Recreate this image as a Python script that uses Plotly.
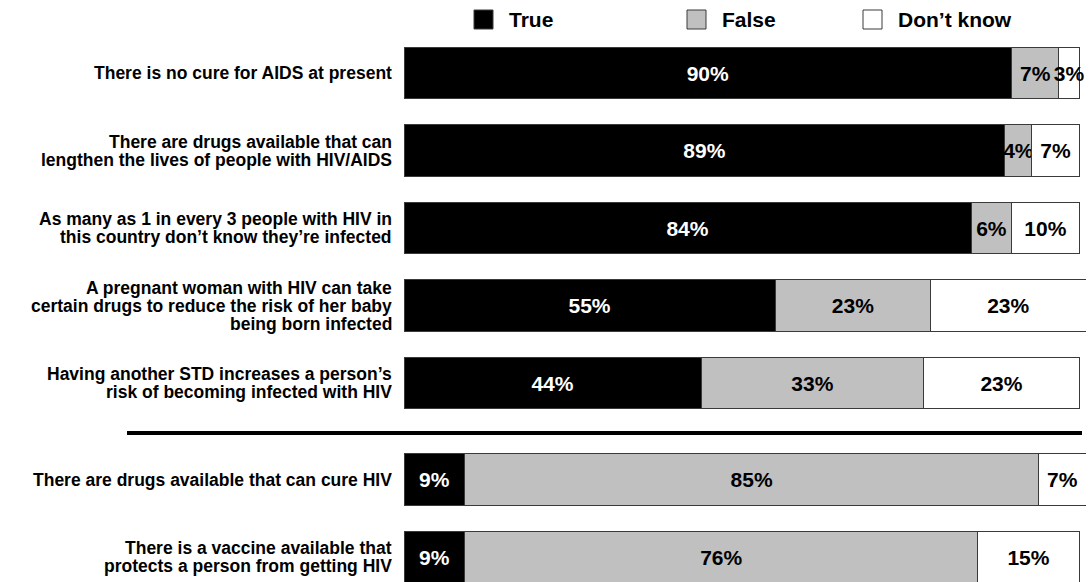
import plotly.graph_objects as go

categories = [
    "There is no cure for AIDS at present",
    "There are drugs available that can<br>lengthen the lives of people with HIV/AIDS",
    "As many as 1 in every 3 people with HIV in<br>this country don’t know they’re infected",
    "A pregnant woman with HIV can take<br>certain drugs to reduce the risk of her baby<br>being born infected",
    "Having another STD increases a person’s<br>risk of becoming infected with HIV",
    "There are drugs available that can cure HIV",
    "There is a vaccine available that<br>protects a person from getting HIV",
]
true_vals = [90, 89, 84, 55, 44, 9, 9]
false_vals = [7, 4, 6, 23, 33, 85, 76]
dontknow_vals = [3, 7, 10, 23, 23, 7, 15]
series_names = ["True", "False", "Don’t know"]
group_sizes = [5, 2]

W, H = 1091, 582
ML, MR, MT, MB = 404, 5, 0, 0
PW = W - ML - MR
FONT = "Liberation Sans, Arial, sans-serif"

# y positions: groups separated by an extra gap
positions = []
offset = 0.0
idx = 0
for g, size in enumerate(group_sizes):
    for k in range(size):
        positions.append(idx + offset)
        idx += 1
    offset += 0.25

fills = ["#000000", "#C0C0C0", "#FFFFFF"]
txtcols = ["#FFFFFF", "#000000", "#000000"]
vals = [true_vals, false_vals, dontknow_vals]

fig = go.Figure()
for name, v, fc, tc in zip(series_names, vals, fills, txtcols):
    fig.add_trace(go.Bar(
        name=name, orientation="h", y=positions, x=v,
        text=[f"{a}%" for a in v], textposition="inside", textangle=0,
        insidetextanchor="middle", constraintext="none",
        textfont=dict(family=FONT, size=21, color=tc, weight="bold"),
        marker=dict(color=fc, line=dict(color="#3a3a3a", width=1)),
        width=0.67, cliponaxis=False, showlegend=False,
    ))

px_per_unit = 77.5
y0_px = 73
y_top = -y0_px / px_per_unit
y_bot = (H - y0_px) / px_per_unit

def xp(px):
    return (px - ML) / PW

def yp(py):
    return (H - py) / (H - MT - MB)

shapes = []
annotations = []
# separator line between groups
shapes.append(dict(type="line", xref="paper", yref="paper",
                   x0=xp(127), x1=xp(1082), y0=yp(433), y1=yp(433),
                   line=dict(color="black", width=4)))

# legend
leg_x = [474, 687, 863]
for name, fc, lx in zip(series_names, fills, leg_x):
    shapes.append(dict(type="rect", xref="paper", yref="paper",
                       x0=xp(lx), x1=xp(lx + 19), y0=yp(10), y1=yp(29),
                       fillcolor=fc, line=dict(color="#3a3a3a", width=1)))
    annotations.append(dict(xref="paper", yref="paper", x=xp(lx + 33), y=yp(20),
                            xanchor="left", yanchor="middle", showarrow=False,
                            text=name, font=dict(family=FONT, size=21, color="black", weight="bold")))

# category labels (one annotation per line for tight spacing)
LINE_H = 18
for cat, pos in zip(categories, positions):
    lines = cat.split("<br>")
    n = len(lines)
    for i, ln in enumerate(lines):
        annotations.append(dict(xref="paper", yref="y", x=xp(394), y=pos,
                                yshift=-(i - (n - 1) / 2) * LINE_H,
                                xanchor="right", yanchor="middle", showarrow=False,
                                text=ln, font=dict(family=FONT, size=17.5, color="black", weight="bold")))

fig.update_layout(
    barmode="stack", width=W, height=H, autosize=False,
    margin=dict(l=ML, r=MR, t=MT, b=MB, pad=0),
    paper_bgcolor="white", plot_bgcolor="white",
    xaxis=dict(range=[0, 101], visible=False, fixedrange=True),
    yaxis=dict(range=[y_bot, y_top], visible=False, fixedrange=True),
    shapes=shapes, annotations=annotations, showlegend=False,
)
fig.write_html("out.html", config={"displayModeBar": False},
               post_script="document.body.style.margin='0';document.body.style.overflow='hidden';")
